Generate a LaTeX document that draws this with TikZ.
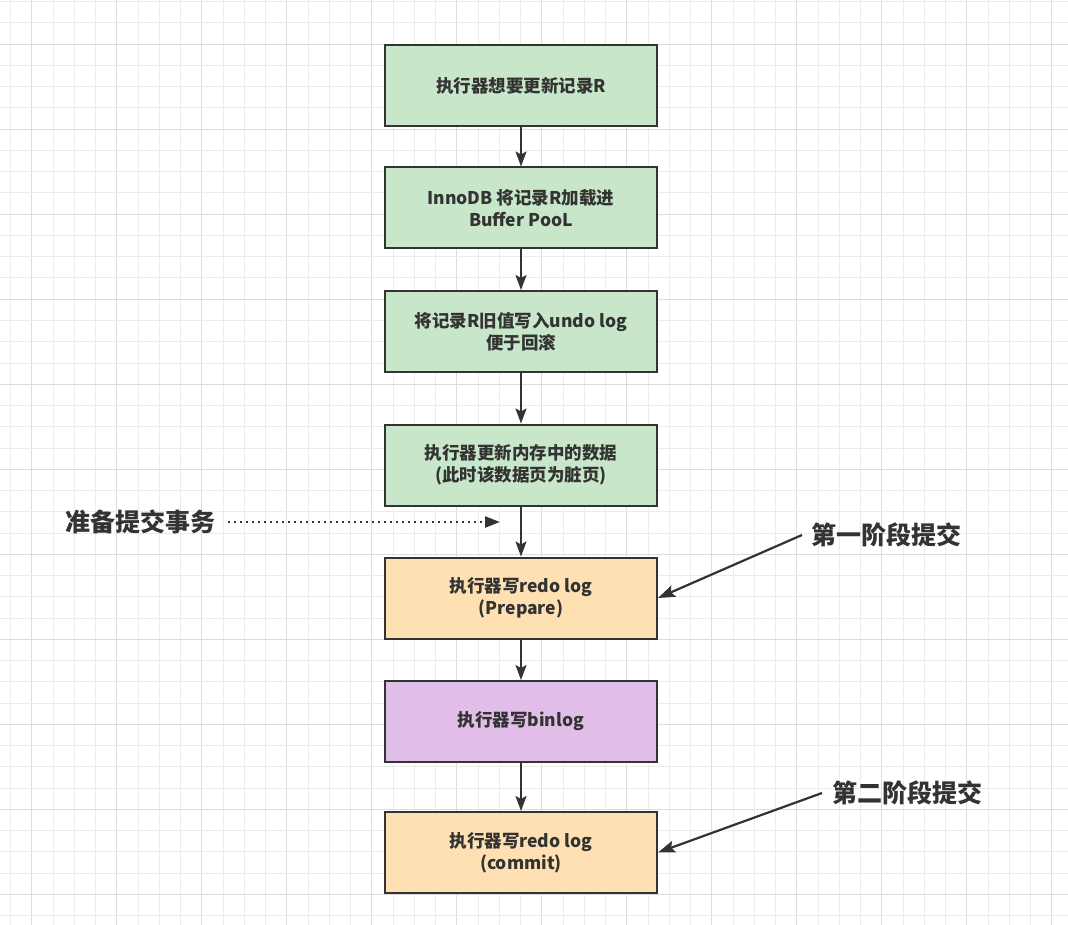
\documentclass[tikz,border=0pt]{standalone}
\usepackage{fontspec}
\setmainfont{Noto Sans CJK SC}
\usetikzlibrary{arrows.meta}
\definecolor{ink}{HTML}{333333}
\definecolor{gfill}{HTML}{C8E6C9}
\definecolor{ofill}{HTML}{FFE0B2}
\definecolor{pfill}{HTML}{E1BEE7}
\definecolor{gridminor}{HTML}{EBEBEB}
\definecolor{gridmajor}{HTML}{DCDCDC}
\tikzset{
  stepbox/.style={draw=ink, line width=2pt, minimum width=272pt, minimum height=81pt,
    align=center, text=ink, font=\fontsize{17.5}{22}\selectfont\bfseries, inner sep=0pt},
  greenbox/.style={stepbox, fill=gfill},
  orangebox/.style={stepbox, fill=ofill},
  purplebox/.style={stepbox, fill=pfill},
  flow/.style={draw=ink, line width=2.2pt, -{Stealth[length=15pt,width=11pt,inset=3pt]}},
  callout/.style={draw=ink, line width=2.2pt, -{Stealth[length=17pt,width=12pt,inset=3pt]}},
  biglabel/.style={text=ink, font=\fontsize{25}{30}\selectfont\bfseries, inner sep=0pt},
}
\begin{document}
\begin{tikzpicture}[x=1pt,y=-1pt]
\useasboundingbox (0,0) rectangle (1068,925);
\fill[white] (0,0) rectangle (1068,925);
% grid
\foreach \i in {0,...,50} {
  \pgfmathsetmacro{\xx}{10.5+21.25*\i}
  \pgfmathtruncatemacro{\m}{mod(\i+3,4)}
  \ifnum\m=0
    \draw[gridmajor, line width=1.2pt] (\xx,0) -- (\xx,925);
  \else
    \draw[gridminor, line width=1pt] (\xx,0) -- (\xx,925);
  \fi
}
\foreach \i in {0,...,44} {
  \pgfmathsetmacro{\yy}{1.75+21.25*\i}
  \pgfmathtruncatemacro{\m}{mod(\i+2,4)}
  \ifnum\m=0
    \draw[gridmajor, line width=1.2pt] (0,\yy) -- (1068,\yy);
  \else
    \draw[gridminor, line width=1pt] (0,\yy) -- (1068,\yy);
  \fi
}
% boxes
\node[greenbox] (b1) at (521,86) {执行器想要更新记录R};
\node[greenbox] (b2) at (521,208) {InnoDB 将记录R加载进\\Buffer PooL};
\node[greenbox] (b3) at (521,331.5) {将记录R旧值写入undo log\\便于回滚};
\node[greenbox] (b4) at (521,465) {执行器更新内存中的数据\\(此时该数据页为脏页)};
\node[orangebox] (b5) at (521,598) {执行器写redo log\\(Prepare)};
\node[purplebox] (b6) at (521,721.5) {执行器写binlog};
\node[orangebox] (b7) at (521,852.5) {执行器写redo log\\(commit)};
% flow arrows
\draw[flow] (b1) -- (b2);
\draw[flow] (b2) -- (b3);
\draw[flow] (b3) -- (b4);
\draw[flow] (b4) -- (b5);
\draw[flow] (b5) -- (b6);
\draw[flow] (b6) -- (b7);
% labels
\node[biglabel, anchor=east] (prep) at (216,522) {准备提交事务};
\coordinate (prepend) at (500,522);
\draw[ink, line width=2.6pt, dash pattern=on 2.4pt off 3.6pt, -{Triangle[length=15pt,width=11pt]}] ([xshift=12pt]prep.east) -- (prepend);
\node[biglabel, anchor=west] (p1) at (811,535) {第一阶段提交};
\draw[callout] ([xshift=-9pt]p1.west) -- (b5.east);
\node[biglabel, anchor=west] (p2) at (832,793) {第二阶段提交};
\draw[callout] ([xshift=-10pt]p2.west) -- (b7.east);
\end{tikzpicture}
\end{document}
